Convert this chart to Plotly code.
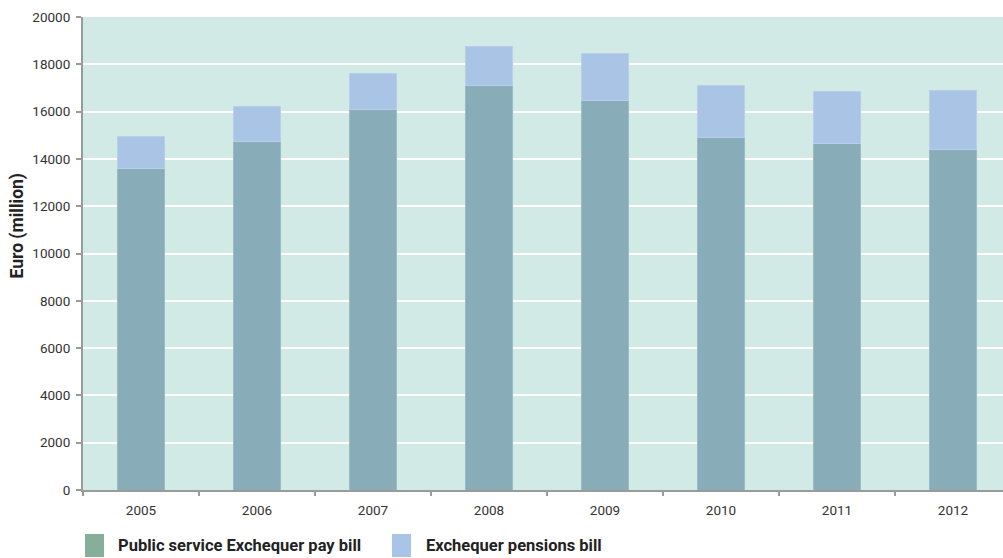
import plotly.graph_objects as go

# Exchequer pay and pensions bills, EUR million
years = ["2005", "2006", "2007", "2008", "2009", "2010", "2011", "2012"]
pay_bill = [13600, 14750, 16100, 17100, 16450, 14900, 14650, 14400]
pensions_total = [14950, 16200, 17600, 18750, 18450, 17100, 16850, 16900]
pensions_bill = [t - p for t, p in zip(pensions_total, pay_bill)]

y_ticks = list(range(0, 20001, 2000))

PAY_BAR = "#88ACB8"
PEN_BAR = "#AAC4E6"
PAY_KEY = "#87AE99"
PEN_KEY = "#A9C4E6"
AXIS = "#9A9A9A"
FONT = "Roboto"

fig = go.Figure()
fig.add_trace(go.Bar(
    x=years, y=pay_bill, name="Public service Exchequer pay bill",
    marker=dict(color=PAY_BAR, line=dict(color="#9ABBC6", width=1)),
    width=0.4, showlegend=False,
))
fig.add_trace(go.Bar(
    x=years, y=pensions_bill, name="Exchequer pensions bill",
    marker=dict(color=PEN_BAR, line=dict(color="#B8CFEB", width=1)),
    width=0.4, showlegend=False,
))

fig.update_layout(
    barmode="stack",
    width=1003, height=558,
    margin=dict(l=83, r=0, t=17, b=68),
    paper_bgcolor="white",
    plot_bgcolor="#D1EAE6",
    font=dict(family=FONT, size=13, color="#333333"),
    xaxis=dict(
        type="category",
        range=[-0.5, 7.431],
        showgrid=False,
        showline=True, linecolor=AXIS, linewidth=2,
        ticks="outside", tickson="boundaries", ticklen=4,
        tickcolor=AXIS, tickwidth=1.5,
        ticklabelstandoff=7,
        tickfont=dict(family=FONT, size=13.5, color="#333333"),
    ),
    yaxis=dict(
        range=[0, 20000],
        tickvals=y_ticks,
        ticktext=[str(v) for v in y_ticks],
        showgrid=True, gridcolor="white", gridwidth=2,
        zeroline=False,
        showline=True, linecolor=AXIS, linewidth=2,
        ticks="outside", ticklen=5, tickcolor=AXIS, tickwidth=1.5,
        ticklabelstandoff=3,
        tickfont=dict(family=FONT, size=13.5, color="#333333"),
    ),
)

# Y-axis title
fig.add_annotation(
    text="<b>Euro (million)</b>", textangle=-90,
    xref="paper", yref="paper", x=(17 - 83) / 920, y=(490 - 225.5) / 473,
    xanchor="center", yanchor="middle", showarrow=False,
    font=dict(family=FONT, size=17.5, color="#222222"),
)

# Legend keys drawn below the plot
legend_items = [
    (PAY_KEY, "Public service Exchequer pay bill", 85, 116),
    (PEN_KEY, "Exchequer pensions bill", 392, 424),
]
for color, label, x0, tx in legend_items:
    fig.add_shape(
        type="rect", xref="paper", yref="paper",
        x0=(x0 - 83) / 920, x1=(x0 + 19 - 83) / 920,
        y0=(490 - 557) / 473, y1=(490 - 534) / 473,
        fillcolor=color, line=dict(width=0),
    )
    fig.add_annotation(
        text=f"<b>{label}</b>", xref="paper", yref="paper",
        x=(tx - 83) / 920, y=(490 - 545) / 473,
        xanchor="left", yanchor="middle", showarrow=False,
        font=dict(family=FONT, size=16.5, color="#222222"),
    )

fig.write_html("out.html")
